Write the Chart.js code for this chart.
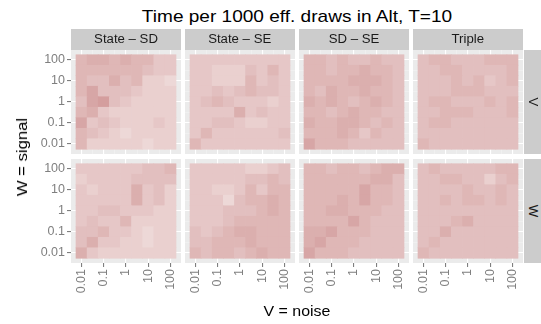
<!DOCTYPE html>
<html>
<head>
<meta charset="utf-8">
<script src="https://cdn.jsdelivr.net/npm/chart.js@4"></script>
<style>
  body { margin: 0; background: #fff; font-family: "Liberation Sans", Arial, sans-serif; }
  #wrap { position: relative; width: 541px; height: 324px; overflow: hidden; }
  #wrap canvas { position: absolute; }
  .txt { position: absolute; white-space: nowrap; text-align: center; }
  .strip { position: absolute; background: #cccccc; color: #1a1a1a; font-size: 12px; text-align: center; }
</style>
</head>
<body>
<div id="wrap"></div>
<script>
// facet labels and axis levels
const colFacets = ['State – SD', 'State – SE', 'SD – SE', 'Triple'];
const rowFacets = ['V', 'W'];
const levels = [-2, -1.5, -1, -0.5, 0, 0.5, 1, 1.5, 2];   // log10 of V and W
const tickLabels = { '-2': '0.01', '-1': '0.1', '0': '1', '1': '10', '2': '100' };

// time per 1000 eff. draws, shade level 0 (fast) .. 9 (slow)
// rows: W = 100 down to 0.01, columns: V = 0.01 up to 100
const stateSD_V = [
  [5,6,6,5,6,5,5,3,3],
  [5,5,5,5,5,5,4,3,3],
  [5,4,4,6,4,5,2,2,1],
  [5,7,4,4,4,3,2,2,2],
  [4,7,8,4,3,2,2,2,2],
  [5,6,3,2,2,2,2,2,2],
  [7,3,4,3,2,2,2,3,2],
  [5,4,3,2,1,2,2,2,2],
  [5,2,2,2,2,2,1,2,2]
];
const stateSE_V = [
  [3,3,3,3,3,3,3,3,3],
  [3,3,2,2,2,4,3,5,3],
  [3,3,2,2,2,5,3,4,3],
  [3,3,4,3,4,5,4,4,3],
  [3,4,5,4,3,3,3,2,3],
  [3,3,3,3,6,3,4,3,3],
  [3,3,4,4,3,2,2,3,3],
  [3,5,3,3,3,3,3,3,4],
  [5,3,3,3,3,3,3,3,3]
];
const sdSE_V = [
  [5,5,4,5,4,4,5,4,4],
  [5,5,4,5,5,6,5,5,4],
  [5,5,5,5,6,6,6,5,4],
  [5,4,6,5,5,6,5,5,4],
  [6,5,6,5,4,5,6,5,4],
  [5,5,4,5,6,5,5,4,4],
  [6,5,5,6,6,5,4,5,4],
  [5,5,5,6,5,3,5,4,4],
  [7,5,5,5,4,4,4,4,4]
];
const triple_V = [
  [4,5,5,4,4,4,5,5,5],
  [4,4,5,5,4,4,4,4,5],
  [4,4,4,5,4,5,3,4,5],
  [4,4,4,5,5,5,4,4,4],
  [4,5,5,4,4,4,5,4,5],
  [4,4,5,5,5,4,4,4,5],
  [4,5,5,4,4,4,4,4,4],
  [4,4,4,4,4,4,4,4,4],
  [5,4,4,4,4,4,4,4,4]
];
const stateSD_W = [
  [3,3,3,3,3,3,4,4,5],
  [2,3,3,3,3,4,4,4,4],
  [3,2,3,3,3,6,3,4,2],
  [3,3,3,3,3,6,3,4,2],
  [3,3,4,4,3,3,3,2,2],
  [3,4,3,3,5,2,2,2,2],
  [4,4,5,3,3,2,1,2,2],
  [4,6,3,3,2,2,1,2,2],
  [6,3,2,2,2,2,2,2,2]
];
const stateSE_W = [
  [3,3,3,3,3,2,2,3,4],
  [3,3,3,3,3,4,4,5,4],
  [3,3,2,2,3,5,3,5,5],
  [3,3,3,1,4,5,5,6,5],
  [3,3,3,4,4,4,5,6,5],
  [3,3,3,4,5,5,5,5,5],
  [4,3,4,5,6,6,5,5,5],
  [4,4,5,5,5,6,5,5,5],
  [5,4,5,5,4,5,6,5,5]
];
const sdSE_W = [
  [5,5,4,5,5,4,5,6,6],
  [5,5,5,5,5,5,6,6,4],
  [5,5,5,5,5,7,5,5,4],
  [5,5,5,6,5,7,5,5,4],
  [5,5,6,6,5,5,5,4,4],
  [5,5,5,5,7,5,4,4,4],
  [6,6,7,5,5,5,4,4,4],
  [6,7,5,5,5,4,4,4,4],
  [7,5,5,5,4,4,4,4,4]
];
const triple_W = [
  [4,5,4,4,4,4,4,5,5],
  [4,4,5,5,4,4,2,4,5],
  [4,4,4,4,5,4,4,5,4],
  [4,4,5,4,5,5,4,5,4],
  [4,4,4,4,4,4,4,4,4],
  [4,4,4,5,6,4,4,4,4],
  [4,4,6,4,4,4,4,4,4],
  [4,5,4,4,4,4,4,4,4],
  [5,4,4,4,4,4,4,4,4]
];

const panels = [
  [stateSD_V, stateSE_V, sdSE_V, triple_V],
  [stateSD_W, stateSE_W, sdSE_W, triple_W]
];

// layout
const colX = [71, 185, 299, 413];
const rowY = [50, 159];
const panelW = 110, panelH = 104;
const yAxisW = 45, xAxisH = 40;
const lim = 2.475;

function shade(v) {
  const t = v / 9;
  const lo = [241, 224, 223], hi = [208, 150, 150];
  const c = lo.map((a, i) => Math.round(a + (hi[i] - a) * t));
  return `rgb(${c[0]},${c[1]},${c[2]})`;
}

const panelBg = {
  id: 'panelBg',
  beforeDraw(chart) {
    const { ctx, chartArea: a } = chart;
    ctx.save();
    ctx.fillStyle = '#ebebeb';
    ctx.fillRect(a.left, a.top, a.right - a.left, a.bottom - a.top);
    ctx.restore();
  }
};

function fixedTicks(scale) {
  scale.ticks = levels.map(v => ({ value: v }));
}

const wrap = document.getElementById('wrap');

function el(cls, css, text) {
  const d = document.createElement('div');
  d.className = cls;
  d.style.cssText = css;
  if (text) d.textContent = text;
  wrap.appendChild(d);
  return d;
}

// heatmap panels
panels.forEach((row, r) => {
  row.forEach((grid, c) => {
    const cv = document.createElement('canvas');
    cv.width = panelW + yAxisW;
    cv.height = panelH + xAxisH;
    cv.style.left = (colX[c] - yAxisW) + 'px';
    cv.style.top = rowY[r] + 'px';
    wrap.appendChild(cv);

    const points = [], colors = [];
    grid.forEach((vals, i) => {
      const w = levels[8 - i];
      vals.forEach((v, j) => {
        points.push({ x: levels[j], y: [w - 0.25, w + 0.25] });
        colors.push(shade(v));
      });
    });

    const showX = r === 1, showY = c === 0;
    const gridOpts = show => ({
      color: ctx => ctx.tick.value % 1 === 0 ? '#ffffff' : '#f3f3f3',
      lineWidth: ctx => ctx.tick.value % 1 === 0 ? 1.1 : 0.6,
      tickColor: ctx => show && ctx.tick.value % 1 === 0 ? '#7f7f7f' : 'rgba(0,0,0,0)',
      tickLength: 4,
      offset: false
    });

    new Chart(cv, {
      type: 'bar',
      data: {
        datasets: [{
          data: points,
          backgroundColor: colors,
          borderWidth: 0,
          barPercentage: 1,
          categoryPercentage: 1
        }]
      },
      options: {
        responsive: false,
        animation: false,
        devicePixelRatio: 1,
        layout: { padding: 0 },
        plugins: { legend: { display: false }, tooltip: { enabled: false } },
        scales: {
          x: {
            type: 'linear',
            min: -lim, max: lim,
            offset: false,
            afterBuildTicks: fixedTicks,
            afterFit(s) { s.height = xAxisH; s.paddingLeft = 0; s.paddingRight = 0; },
            grid: gridOpts(showX),
            border: { display: false },
            ticks: {
              display: showX,
              minRotation: 90, maxRotation: 90,
              padding: 2,
              color: '#7f7f7f',
              font: { family: 'Liberation Sans', size: 12.5 },
              callback: v => tickLabels[v] || ''
            }
          },
          y: {
            type: 'linear',
            min: -lim, max: lim,
            afterBuildTicks: fixedTicks,
            afterFit(s) { s.width = yAxisW; s.paddingTop = 0; s.paddingBottom = 0; },
            grid: gridOpts(showY),
            border: { display: false },
            ticks: {
              display: showY,
              padding: 2,
              color: '#7f7f7f',
              font: { family: 'Liberation Sans', size: 12.5 },
              callback: v => tickLabels[v] || ''
            }
          }
        }
      },
      plugins: [panelBg]
    });
  });
});

// strips
colFacets.forEach((name, c) => {
  const s = el('strip', `left:${colX[c]}px;top:29px;width:${panelW}px;height:21px;line-height:21px;`);
  const t = document.createElement('span');
  t.textContent = name;
  t.style.cssText = 'display:inline-block;transform:scaleX(1.1);';
  s.appendChild(t);
});
rowFacets.forEach((name, r) => {
  const s = el('strip', `left:524px;top:${rowY[r]}px;width:17px;height:${panelH}px;`);
  const t = document.createElement('div');
  t.textContent = name;
  t.style.cssText = 'position:absolute;left:50%;top:50%;transform:translate(-50%,-50%) rotate(90deg) scaleX(1.1);font-size:12px;';
  s.appendChild(t);
});

// titles
el('txt', 'left:71px;width:452px;top:7px;font-size:17px;line-height:20px;color:#000;transform:scaleX(1.12);',
   'Time per 1000 eff. draws in Alt, T=10');
el('txt', 'left:71px;width:452px;top:301px;font-size:14.5px;line-height:20px;color:#000;transform:scaleX(1.1);', 'V = noise');
el('txt', 'left:22px;top:157px;font-size:14.5px;line-height:20px;color:#000;transform:translate(-50%,-50%) rotate(-90deg) scaleX(1.15);',
   'W = signal');
</script>
</body>
</html>
